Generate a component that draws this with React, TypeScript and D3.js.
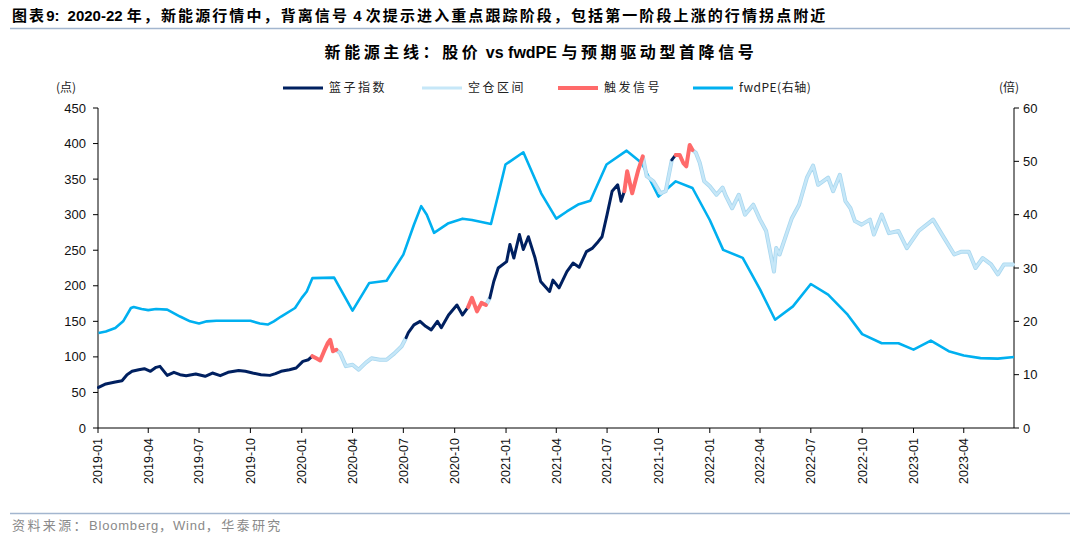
import React from "react";
import * as d3 from "d3";

// 篮子指数 (left axis), colour state per segment: N = 持仓, L = 空仓区间, R = 触发信号
const indexDates = [
  "2019-01-02", "2019-01-15", "2019-02-01", "2019-02-13", "2019-02-22", "2019-03-03", "2019-03-15", "2019-03-25",
  "2019-04-05", "2019-04-15", "2019-04-22", "2019-05-05", "2019-05-17", "2019-05-28", "2019-06-08", "2019-06-25",
  "2019-07-12", "2019-07-25", "2019-08-08", "2019-08-22", "2019-09-10", "2019-09-22", "2019-10-05", "2019-10-20",
  "2019-11-05", "2019-11-15", "2019-11-25", "2019-12-10", "2019-12-22", "2020-01-03", "2020-01-13", "2020-01-20",
  "2020-01-27", "2020-02-03", "2020-02-10", "2020-02-17", "2020-02-21", "2020-02-26", "2020-03-03",
  "2020-03-10", "2020-03-20", "2020-04-01", "2020-04-12", "2020-04-25", "2020-05-05", "2020-05-20", "2020-06-01",
  "2020-06-15", "2020-06-28", "2020-07-06",
  "2020-07-10", "2020-07-20", "2020-07-31", "2020-08-10", "2020-08-20", "2020-08-31", "2020-09-07", "2020-09-20",
  "2020-10-05", "2020-10-15", "2020-10-25",
  "2020-11-01", "2020-11-10", "2020-11-18", "2020-11-26",
  "2020-12-03",
  "2020-12-10", "2020-12-18", "2021-01-02", "2021-01-08", "2021-01-15", "2021-01-25", "2021-02-01", "2021-02-10",
  "2021-02-22", "2021-03-04", "2021-03-20", "2021-03-26", "2021-04-06", "2021-04-20", "2021-05-01", "2021-05-12",
  "2021-05-25", "2021-06-05", "2021-06-15", "2021-06-22", "2021-07-01", "2021-07-10", "2021-07-20", "2021-07-26",
  "2021-08-01",
  "2021-08-06", "2021-08-15", "2021-08-26", "2021-09-03",
  "2021-09-10", "2021-09-22", "2021-10-05", "2021-10-14", "2021-10-25",
  "2021-11-01",
  "2021-11-08", "2021-11-15", "2021-11-20", "2021-11-26", "2021-12-01",
  "2021-12-07", "2021-12-14", "2021-12-22", "2022-01-01", "2022-01-13", "2022-01-24", "2022-01-30", "2022-02-10",
  "2022-02-22", "2022-03-05", "2022-03-20", "2022-04-01", "2022-04-12", "2022-04-26", "2022-04-30", "2022-05-06",
  "2022-05-18", "2022-05-28", "2022-06-10", "2022-06-24", "2022-07-05", "2022-07-14", "2022-08-01", "2022-08-10",
  "2022-08-22", "2022-09-01", "2022-09-10", "2022-09-18", "2022-09-30", "2022-10-15", "2022-10-22", "2022-11-05",
  "2022-11-18", "2022-12-05", "2022-12-20", "2022-12-28", "2023-01-10", "2023-02-05", "2023-02-25", "2023-03-15",
  "2023-03-28", "2023-04-10", "2023-04-22", "2023-05-05", "2023-05-20", "2023-06-01", "2023-06-12", "2023-06-30",
];
const indexValues = [
  57, 62, 64.7, 66.5, 75, 79.7, 82, 83.4,
  79.7, 85.3, 86.7, 74, 78.3, 75, 73.6, 76,
  72.7, 77.3, 73.6, 78.3, 81, 79.7, 77.3, 75,
  74, 76.4, 79.7, 82, 84.4, 93.7, 96, 101,
  98, 95, 108, 120, 124, 108, 110,
  105, 87, 89, 82, 92, 98, 96, 96,
  105, 115, 127,
  134, 145, 150, 143, 138, 150, 141, 159,
  173, 159, 170,
  183, 164, 176, 173,
  183,
  206, 225, 234, 258, 239, 272, 251, 269,
  239, 206, 192, 208, 197, 220, 232, 226,
  248, 253, 262, 269, 300, 333, 342, 319,
  333,
  361, 330, 363, 382,
  354, 347, 330, 333, 377,
  384,
  384, 372, 368, 398, 391,
  387, 373, 347, 340, 328, 338, 326, 309,
  328, 300, 314, 293, 277, 220, 253, 244,
  272, 295, 314, 352, 369, 342, 352, 333,
  356, 319, 309, 291, 286, 293, 272, 300,
  274, 277, 253, 262, 277, 293, 267, 244,
  248, 248, 225, 239, 230, 216, 230, 230,
];
const indexState = [
  ..."NNNNNNNN", ..."NNNNNNNN", ..."NNNNNNNN", ..."NNNNNNNN",
  ..."RRRRRRR",
  ..."LLLLLLLL", ..."LLL",
  ..."NNNNNNNN", ..."NNN",
  ..."RRRR",
  ..."L",
  ..."NNNNNNNN", ..."NNNNNNNN", ..."NNNNNNNN", ..."N",
  ..."RRRR",
  ..."LLLLL",
  ..."N",
  ..."RRRRR",
  ..."LLLLLLLL", ..."LLLLLLLL", ..."LLLLLLLL", ..."LLLLLLLL", ..."LLLLLLLL", ..."LLLLLLLL",
];

// fwdPE (right axis)
const peDates = [
  "2019-01-02", "2019-01-15", "2019-02-01", "2019-02-15", "2019-03-01", "2019-03-06", "2019-03-20", "2019-04-01",
  "2019-04-15", "2019-05-05", "2019-05-28", "2019-06-15", "2019-07-01", "2019-07-15", "2019-08-01", "2019-09-15",
  "2019-10-01", "2019-10-18", "2019-11-01", "2019-11-12", "2019-11-25", "2019-12-20", "2020-01-01", "2020-01-10",
  "2020-01-20", "2020-02-28", "2020-04-01", "2020-04-20", "2020-05-01", "2020-06-01", "2020-07-01", "2020-07-20",
  "2020-08-02", "2020-08-12", "2020-08-25", "2020-09-20", "2020-10-15", "2020-11-01", "2020-12-05", "2020-12-18",
  "2020-12-31", "2021-02-01", "2021-03-05", "2021-04-01", "2021-04-20", "2021-05-10", "2021-06-01", "2021-06-30",
  "2021-08-05", "2021-09-01", "2021-10-01", "2021-11-01", "2021-12-01", "2022-01-01", "2022-01-25", "2022-03-01",
  "2022-04-01", "2022-04-28", "2022-05-30", "2022-07-01", "2022-08-01", "2022-09-05", "2022-10-01", "2022-11-05",
  "2022-12-05", "2023-01-01", "2023-02-01", "2023-03-05", "2023-04-01", "2023-05-01", "2023-06-01", "2023-06-30",
];
const peValues = [
  17.8, 18.1, 18.75, 20, 22.5, 22.7, 22.3, 22.1,
  22.3, 22.2, 20.9, 20, 19.6, 20, 20.1, 20.1,
  20.1, 19.6, 19.4, 20, 20.9, 22.5, 24.4, 25.6,
  28.1, 28.2, 22, 25.3, 27.2, 27.6, 32.5, 38.1,
  41.6, 40, 36.6, 38.4, 39.25, 39, 38.25, 43.75,
  49.4, 51.7, 44, 39.25, 40.6, 41.9, 42.6, 49.4,
  52, 49.7, 43.4, 46.25, 45, 39, 33.4, 31.9,
  26, 20.3, 22.8, 27, 25, 21.25, 17.6, 15.9,
  15.9, 14.7, 16.4, 14.4, 13.6, 13.1, 13, 13.3,
];

const leftTicks = [0, 50, 100, 150, 200, 250, 300, 350, 400, 450];
const rightTicks = [0, 10, 20, 30, 40, 50, 60];
const xTickDates = [
  "2019-01", "2019-04", "2019-07", "2019-10", "2020-01", "2020-04", "2020-07", "2020-10", "2021-01",
  "2021-04", "2021-07", "2021-10", "2022-01", "2022-04", "2022-07", "2022-10", "2023-01", "2023-04",
];

const legendItems = [
  { label: "篮子指数", color: "#002060", x: 283 },
  { label: "空仓区间", color: "#c6e7f8", x: 422 },
  { label: "触发信号", color: "#ff6a6a", x: 558 },
  { label: "fwdPE(右轴)", color: "#00b0f0", x: 693 },
];

const stateColor: Record<string, string> = { N: "#002060", L: "#c6e7f8", R: "#ff6a6a" };

const FONT = "'Liberation Sans', Arial, 'Noto Sans CJK SC', sans-serif";
const CJK = "'Noto Sans CJK SC', 'Liberation Sans', sans-serif";

const App: React.FC = () => {
  const width = 1080;
  const height = 539;
  const left = 98;
  const right = 1014;
  const top = 108;
  const bottom = 428;
  const parse = d3.timeParse("%Y-%m-%d");
  const parseM = d3.timeParse("%Y-%m");

  const x = d3.scaleTime().domain([parse("2019-01-01")!, parse("2023-06-30")!]).range([left, right]);
  const yL = d3.scaleLinear().domain([0, 450]).range([bottom, top]);
  const yR = d3.scaleLinear().domain([0, 60]).range([bottom, top]);

  const pts = indexDates.map((d, i) => ({ date: parse(d)!, v: indexValues[i], s: indexState[i] }));
  const pe = peDates.map((d, i) => ({ date: parse(d)!, v: peValues[i] }));

  // split price line into coloured runs
  const runs: { s: string; pts: typeof pts }[] = [];
  for (let i = 1; i < pts.length; i++) {
    const s = pts[i].s;
    const last = runs[runs.length - 1];
    if (last && last.s === s) last.pts.push(pts[i]);
    else runs.push({ s, pts: [pts[i - 1], pts[i]] });
  }

  const line = d3
    .line<{ date: Date; v: number }>()
    .x((d) => x(d.date))
    .y((d) => yL(d.v));
  const peLine = d3
    .line<{ date: Date; v: number }>()
    .x((d) => x(d.date))
    .y((d) => yR(d.v));

  const order = ["L", "N", "R"];

  return (
    <svg width={width} height={height} style={{ position: "absolute", left: 0, top: 0, background: "#fff" }}>
      <text x={12} y={21} fontFamily={FONT} fontSize={15} fontWeight="bold" fill="#000">
        <tspan fontFamily={CJK} letterSpacing={2.1}>图表</tspan>9:
        <tspan dx={8}>2020-22 </tspan>
        <tspan fontFamily={CJK} letterSpacing={2.1}>年，新能源行情中，背离信号</tspan> 4{" "}
        <tspan fontFamily={CJK} letterSpacing={2.1}>次提示进入重点跟踪阶段，包括第一阶段上涨的行情拐点附近</tspan>
      </text>
      <line x1={10} x2={1070} y1={28.5} y2={28.5} stroke="#a3b6cf" strokeWidth={1.5} />

      <text x={541} y={58} textAnchor="middle" fontFamily={FONT} fontSize={16} fontWeight="bold" fill="#000">
        <tspan fontFamily={CJK} letterSpacing={3.6}>新能源主线：股价</tspan> vs fwdPE{" "}
        <tspan fontFamily={CJK} letterSpacing={3.6}>与预期驱动型首降信号</tspan>
      </text>

      <text x={56} y={92} fontFamily={CJK} fontSize={12} fill="#222">(点)</text>
      <text x={999} y={92} fontFamily={CJK} fontSize={12} fill="#222">(倍)</text>

      {legendItems.map((l) => (
        <g key={l.label}>
          <line x1={l.x} x2={l.x + 40} y1={88} y2={88} stroke={l.color} strokeWidth={l.label === "触发信号" ? 4 : 3} />
          <text x={l.x + 46} y={92} fontFamily={CJK} fontSize={12} letterSpacing={l.label.startsWith("fwd") ? 0.5 : 2.5} fill="#222">
            {l.label}
          </text>
        </g>
      ))}

      {/* axes */}
      <line x1={left} x2={left} y1={top} y2={bottom} stroke="#000" />
      <line x1={right} x2={right} y1={top} y2={bottom} stroke="#000" />
      <line x1={left} x2={right} y1={bottom} y2={bottom} stroke="#000" />
      {leftTicks.map((t) => (
        <g key={"l" + t}>
          <line x1={left - 5} x2={left} y1={yL(t)} y2={yL(t)} stroke="#000" />
          <text x={86} y={yL(t)} dy="0.35em" textAnchor="end" fontFamily={FONT} fontSize={13} fill="#111">{t}</text>
        </g>
      ))}
      {rightTicks.map((t) => (
        <g key={"r" + t}>
          <line x1={right} x2={right + 5} y1={yR(t)} y2={yR(t)} stroke="#000" />
          <text x={1023} y={yR(t)} dy="0.35em" fontFamily={FONT} fontSize={13} fill="#111">{t}</text>
        </g>
      ))}
      {xTickDates.map((t) => {
        const px = x(parseM(t)!);
        return (
          <g key={t}>
            <line x1={px} x2={px} y1={bottom} y2={bottom + 5} stroke="#000" />
            <text
              transform={`translate(${px},${bottom + 10}) rotate(-90)`}
              dy="0.35em"
              textAnchor="end"
              fontFamily={FONT}
              fontSize={12.5}
              fill="#111"
            >
              {t}
            </text>
          </g>
        );
      })}

      {/* fwdPE */}
      <path d={peLine(pe)!} fill="none" stroke="#00b0f0" strokeWidth={2.6} strokeLinejoin="round" />

      {/* index, coloured by state */}
      {order.map((s) =>
        runs
          .filter((r) => r.s === s)
          .map((r, i) => (
            <g key={s + i}>
              {s === "L" && (
                <path d={line(r.pts)!} fill="none" stroke="#a9d7ef" strokeWidth={4} strokeLinejoin="round" />
              )}
              <path
                d={line(r.pts)!}
                fill="none"
                stroke={stateColor[s]}
                strokeWidth={s === "R" ? 4 : s === "L" ? 2.4 : 3}
                strokeLinejoin="round"
                strokeLinecap="round"
              />
            </g>
          ))
      )}

      <line x1={10} x2={1070} y1={513.5} y2={513.5} stroke="#a3b6cf" strokeWidth={1.5} />
      <text x={12} y={530} fontFamily={FONT} fontSize={13} fill="#8a8a8a" letterSpacing={0.8}>
        <tspan fontFamily={CJK} letterSpacing={2.4}>资料来源：</tspan>Bloomberg<tspan fontFamily={CJK}>，</tspan>Wind
        <tspan fontFamily={CJK} letterSpacing={2.4}>，华泰研究</tspan>
      </text>
    </svg>
  );
};

export default App;
